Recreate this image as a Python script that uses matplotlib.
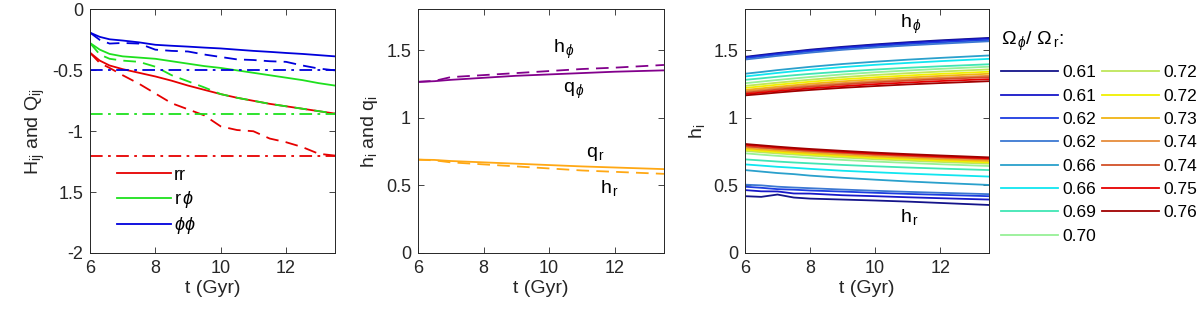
import matplotlib
matplotlib.use("Agg")
import matplotlib.pyplot as plt

plt.rcParams["font.family"] = ["Liberation Sans", "DejaVu Sans"]
plt.rcParams["mathtext.fontset"] = "custom"
plt.rcParams["mathtext.rm"] = "Liberation Sans"
plt.rcParams["mathtext.it"] = "Liberation Sans:italic"

# ---- panel 1: H_ij (solid), Q_ij (dashed) and limits (dash-dot)
t1 = [6, 6.3, 6.6, 7, 7.5, 8, 8.5, 9, 9.5, 10, 10.5, 11, 11.5, 12, 12.5, 13, 13.5]
H_rr = [-0.355, -0.42, -0.46, -0.49, -0.52, -0.55, -0.585, -0.625, -0.66, -0.695,
        -0.725, -0.75, -0.775, -0.795, -0.815, -0.835, -0.855]
Q_rr = [-0.355, -0.44, -0.48, -0.54, -0.61, -0.69, -0.77, -0.82, -0.87, -0.96,
        -0.99, -1.0, -1.06, -1.09, -1.13, -1.185, -1.2]
H_rp = [-0.275, -0.33, -0.365, -0.385, -0.395, -0.405, -0.425, -0.445, -0.465, -0.48,
        -0.50, -0.52, -0.54, -0.56, -0.58, -0.605, -0.625]
Q_rp = [-0.275, -0.37, -0.405, -0.42, -0.43, -0.47, -0.54, -0.59, -0.64, -0.695,
        -0.725, -0.75, -0.775, -0.795, -0.815, -0.835, -0.855]
H_pp = [-0.19, -0.225, -0.245, -0.255, -0.27, -0.29, -0.298, -0.305, -0.313, -0.32,
        -0.33, -0.34, -0.348, -0.357, -0.365, -0.375, -0.385]
Q_pp = [-0.19, -0.25, -0.28, -0.275, -0.28, -0.33, -0.34, -0.345, -0.37, -0.39,
        -0.41, -0.415, -0.425, -0.43, -0.46, -0.485, -0.5]
lim_rr = -1.2
lim_rp = -0.86
lim_pp = -0.5
labels1 = ["rr", r"r$\,\phi$", r"$\phi\phi$"]
yticks1 = [0, -0.5, -1, -1.5, -2]
yticklabels1 = ["0", "-0.5", "-1", "1.5", "-2"]

# ---- panel 2: h_i (dashed) and q_i (solid)
t2 = [6, 6.5, 7, 8, 9, 10, 11, 12, 13.5]
q_phi = [1.265, 1.27, 1.28, 1.295, 1.31, 1.32, 1.33, 1.34, 1.35]
h_phi = [1.265, 1.272, 1.30, 1.315, 1.33, 1.345, 1.36, 1.37, 1.39]
q_r = [0.69, 0.688, 0.68, 0.67, 0.66, 0.65, 0.64, 0.632, 0.62]
h_r = [0.69, 0.685, 0.67, 0.655, 0.64, 0.625, 0.61, 0.60, 0.585]

# ---- panel 3: h_phi (upper) and h_r (lower) for each frequency ratio
t3 = [6, 6.5, 7, 7.5, 8, 9, 10, 11, 12, 13.5]
ratios = ["0.61", "0.61", "0.62", "0.62", "0.66", "0.66", "0.69", "0.70",
          "0.72", "0.72", "0.73", "0.74", "0.74", "0.75", "0.76"]
ratio_colors = ["#14148a", "#1717c8", "#1c3ce0", "#3c78d2", "#2aa0cc", "#10e6f0",
                "#40e6b4", "#96f096", "#bee65a", "#f0f000", "#f0b414", "#e68c3c",
                "#d25028", "#e60000", "#a00000"]
hphi_curves = [
    [1.45, 1.464, 1.478, 1.49, 1.503, 1.524, 1.542, 1.558, 1.572, 1.59],
    [1.445, 1.459, 1.473, 1.485, 1.498, 1.519, 1.537, 1.553, 1.567, 1.585],
    [1.44, 1.453, 1.467, 1.479, 1.491, 1.512, 1.529, 1.544, 1.557, 1.575],
    [1.43, 1.443, 1.457, 1.469, 1.481, 1.502, 1.519, 1.534, 1.547, 1.565],
    [1.325, 1.338, 1.352, 1.364, 1.376, 1.397, 1.414, 1.429, 1.442, 1.46],
    [1.305, 1.318, 1.331, 1.343, 1.354, 1.374, 1.391, 1.405, 1.418, 1.435],
    [1.28, 1.291, 1.303, 1.314, 1.324, 1.341, 1.356, 1.369, 1.38, 1.395],
    [1.255, 1.267, 1.279, 1.29, 1.301, 1.32, 1.336, 1.349, 1.361, 1.377],
    [1.235, 1.247, 1.259, 1.27, 1.281, 1.3, 1.316, 1.329, 1.341, 1.357],
    [1.22, 1.232, 1.244, 1.255, 1.266, 1.284, 1.299, 1.312, 1.324, 1.34],
    [1.205, 1.217, 1.229, 1.24, 1.251, 1.269, 1.284, 1.297, 1.309, 1.325],
    [1.195, 1.206, 1.218, 1.229, 1.239, 1.256, 1.271, 1.284, 1.295, 1.31],
    [1.185, 1.196, 1.208, 1.219, 1.229, 1.246, 1.261, 1.274, 1.285, 1.30],
    [1.175, 1.186, 1.197, 1.207, 1.217, 1.233, 1.248, 1.26, 1.271, 1.285],
    [1.165, 1.175, 1.186, 1.196, 1.205, 1.221, 1.234, 1.246, 1.256, 1.27],
]
hr_curves = [
    [0.42, 0.415, 0.432, 0.41, 0.402, 0.395, 0.388, 0.38, 0.37, 0.355],
    [0.465, 0.456, 0.455, 0.44, 0.439, 0.427, 0.42, 0.412, 0.405, 0.395],
    [0.49, 0.482, 0.472, 0.468, 0.462, 0.454, 0.445, 0.437, 0.43, 0.42],
    [0.505, 0.5, 0.49, 0.484, 0.479, 0.469, 0.46, 0.452, 0.445, 0.435],
    [0.613, 0.602, 0.591, 0.583, 0.572, 0.556, 0.542, 0.529, 0.518, 0.503],
    [0.655, 0.646, 0.637, 0.63, 0.622, 0.608, 0.597, 0.587, 0.578, 0.565],
    [0.692, 0.684, 0.676, 0.669, 0.663, 0.651, 0.641, 0.632, 0.624, 0.613],
    [0.737, 0.727, 0.718, 0.71, 0.702, 0.688, 0.676, 0.666, 0.656, 0.643],
    [0.755, 0.745, 0.736, 0.728, 0.72, 0.706, 0.693, 0.683, 0.673, 0.66],
    [0.765, 0.755, 0.746, 0.738, 0.73, 0.716, 0.703, 0.693, 0.683, 0.67],
    [0.775, 0.765, 0.756, 0.748, 0.74, 0.726, 0.713, 0.703, 0.693, 0.68],
    [0.785, 0.775, 0.766, 0.758, 0.75, 0.736, 0.723, 0.713, 0.703, 0.69],
    [0.79, 0.78, 0.771, 0.763, 0.755, 0.741, 0.728, 0.718, 0.708, 0.695],
    [0.80, 0.79, 0.78, 0.771, 0.763, 0.748, 0.735, 0.724, 0.714, 0.70],
    [0.806, 0.796, 0.786, 0.777, 0.769, 0.755, 0.742, 0.731, 0.721, 0.707],
]

xticks = [6, 8, 10, 12]
RED, GREEN, BLUE = "#e60000", "#1ee01e", "#0000dc"
PURPLE, ORANGE = "#82008c", "#ffa814"
LW = 1.3
DASH = (7, 4)
DASHDOT = (7, 3, 1.5, 3)


def style_axes(ax, ylim, yticks, yticklabels=None):
    ax.set_xlim(6, 13.5)
    ax.set_ylim(*ylim)
    ax.set_xticks(xticks)
    ax.set_yticks(yticks)
    if yticklabels is not None:
        ax.set_yticklabels(yticklabels)
    ax.tick_params(direction="in", top=True, right=True, length=4, width=0.6,
                   labelsize=13, colors="#262626", pad=5)
    for sp in ax.spines.values():
        sp.set_linewidth(0.7)
        sp.set_color("#262626")
    ax.set_xlabel("t (Gyr)", fontsize=14, color="#262626", labelpad=2)


fig = plt.figure(figsize=(12, 3.11), dpi=100)
ax1 = fig.add_axes([0.075, 0.1865, 0.2042, 0.783])
ax2 = fig.add_axes([0.3483, 0.1865, 0.205, 0.783])
ax3 = fig.add_axes([0.6208, 0.1865, 0.2033, 0.783])

# panel 1
h1, = ax1.plot(t1, H_rr, color=RED, lw=LW)
h2, = ax1.plot(t1, H_rp, color=GREEN, lw=LW)
h3, = ax1.plot(t1, H_pp, color=BLUE, lw=LW)
ax1.plot(t1, Q_rr, color=RED, lw=LW, dashes=DASH)
ax1.plot(t1, Q_rp, color=GREEN, lw=LW, dashes=DASH)
ax1.plot(t1, Q_pp, color=BLUE, lw=LW, dashes=DASH)
ax1.axhline(lim_rr, color=RED, lw=LW, dashes=DASHDOT)
ax1.axhline(lim_rp, color=GREEN, lw=LW, dashes=DASHDOT)
ax1.axhline(lim_pp, color=BLUE, lw=LW, dashes=DASHDOT)
ax1.legend([h1, h2, h3], labels1, loc="upper left", bbox_to_anchor=(0.11, 0.355),
           frameon=False, fontsize=13, handlelength=3.0, handletextpad=0.15,
           labelspacing=0.3, borderpad=0, borderaxespad=0)
style_axes(ax1, (-2, 0), yticks1, yticklabels1)
ax1.set_ylabel(r"H$_{\mathrm{ij}}$ and Q$_{\mathrm{ij}}$", fontsize=14, color="#262626")

# panel 2
ax2.plot(t2, q_phi, color=PURPLE, lw=LW)
ax2.plot(t2, h_phi, color=PURPLE, lw=LW, dashes=DASH)
ax2.plot(t2, q_r, color=ORANGE, lw=LW)
ax2.plot(t2, h_r, color=ORANGE, lw=LW, dashes=DASH)
ax2.text(10.12, 1.475, r"h$_{\,\phi}$", fontsize=14, va="baseline")
ax2.text(10.42, 1.18, r"q$_{\,\phi}$", fontsize=14, va="baseline")
ax2.text(11.12, 0.71, r"q$_{\,\mathrm{r}}$", fontsize=14, va="baseline")
ax2.text(11.55, 0.44, r"h$_{\,\mathrm{r}}$", fontsize=14, va="baseline")
style_axes(ax2, (0, 1.8), [0, 0.5, 1, 1.5], ["0", "0.5", "1", "1.5"])
ax2.set_ylabel(r"h$_{\mathrm{i}}$ and q$_{\mathrm{i}}$", fontsize=14, color="#262626")

# panel 3
handles = []
for up, lo, col in zip(hphi_curves, hr_curves, ratio_colors):
    hl, = ax3.plot(t3, up, color=col, lw=LW)
    ax3.plot(t3, lo, color=col, lw=LW)
    handles.append(hl)
ax3.text(10.77, 1.66, r"h$_{\,\phi}$", fontsize=14, va="baseline")
ax3.text(10.77, 0.23, r"h$_{\,\mathrm{r}}$", fontsize=14, va="baseline")
style_axes(ax3, (0, 1.8), [0, 0.5, 1, 1.5], ["0", "0.5", "1", "1.5"])
ax3.set_ylabel(r"h$_{\mathrm{i}}$", fontsize=14, color="#262626")

leg = fig.legend(handles, ratios, ncol=2, loc="upper left",
                 bbox_to_anchor=(0.834, 0.905), frameon=False, fontsize=12.5,
                 handlelength=3.3, handletextpad=0.25, columnspacing=0.3,
                 labelspacing=0.47, borderpad=0, borderaxespad=0,
                 title=r"$\Omega_{\,\phi}$/ $\Omega_{\,\mathrm{r}}$:",
                 title_fontproperties={"size": 14})
leg._legend_box.align = "left"
leg._legend_box.sep = 9

fig.savefig("out.png", dpi=100)
